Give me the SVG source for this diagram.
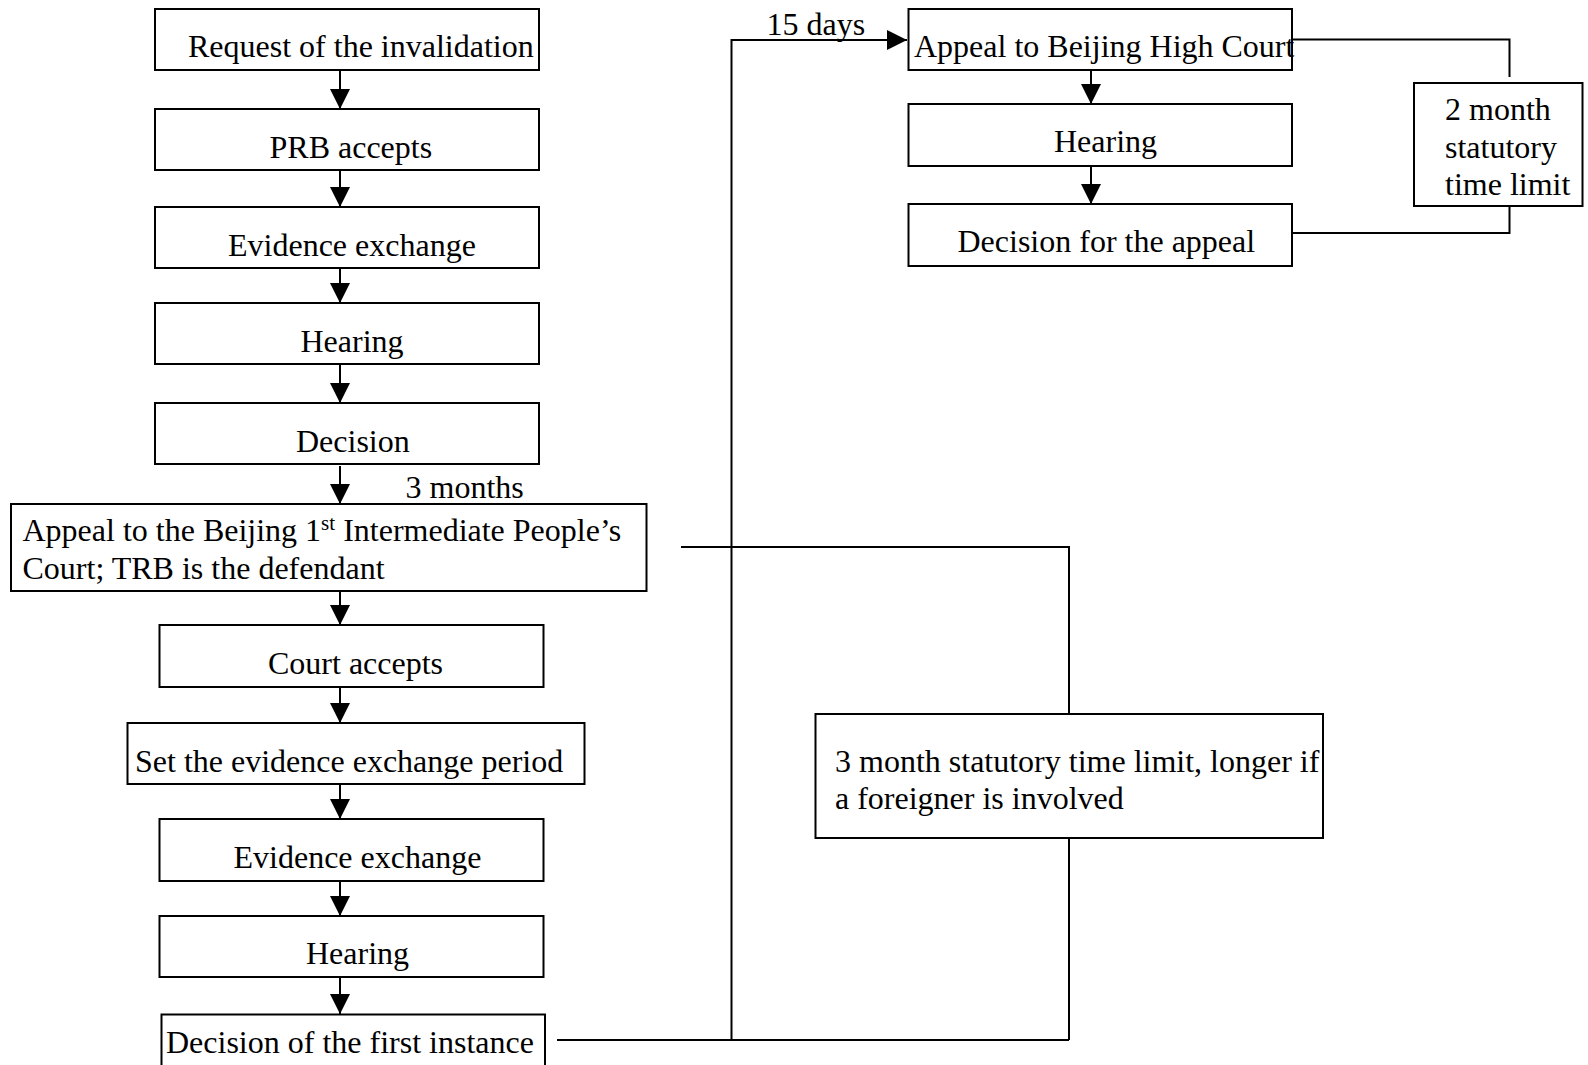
<svg xmlns="http://www.w3.org/2000/svg" width="1588" height="1065" viewBox="0 0 1588 1065">
  <style>
    .box { fill: #ffffff; stroke: #000000; stroke-width: 2; }
    .lbl { font-family: "Liberation Serif", "Times New Roman", serif; font-size: 32px; fill: #000000; }
    .sup { font-size: 21px; }
    .wire { fill: none; stroke: #000000; stroke-width: 2; }
  </style>
  <defs>
    <marker id="head" markerUnits="userSpaceOnUse" markerWidth="20" markerHeight="20" refX="20" refY="10" orient="auto">
      <path d="M0,0 L20,10 L0,20 Z" fill="#000000"/>
    </marker>
  </defs>
  <rect width="1588" height="1065" fill="#ffffff"/>

  <!-- connectors -->
  <g id="connectors">
    <line class="wire" x1="340" y1="70" x2="340" y2="109" marker-end="url(#head)"/>
    <line class="wire" x1="340" y1="170" x2="340" y2="207" marker-end="url(#head)"/>
    <line class="wire" x1="340" y1="268" x2="340" y2="303" marker-end="url(#head)"/>
    <line class="wire" x1="340" y1="364" x2="340" y2="403" marker-end="url(#head)"/>
    <line class="wire" x1="340" y1="466" x2="340" y2="504" marker-end="url(#head)"/>
    <line class="wire" x1="340" y1="591" x2="340" y2="625" marker-end="url(#head)"/>
    <line class="wire" x1="340" y1="687" x2="340" y2="723" marker-end="url(#head)"/>
    <line class="wire" x1="340" y1="784" x2="340" y2="819" marker-end="url(#head)"/>
    <line class="wire" x1="340" y1="881" x2="340" y2="916" marker-end="url(#head)"/>
    <line class="wire" x1="340" y1="977" x2="340" y2="1014" marker-end="url(#head)"/>

    <line class="wire" x1="1091" y1="70" x2="1091" y2="104" marker-end="url(#head)"/>
    <line class="wire" x1="1091" y1="162" x2="1091" y2="204" marker-end="url(#head)"/>

    <!-- first-instance decision to High Court appeal -->
    <polyline class="wire" points="557,1040 731.5,1040 731.5,40 907,40" marker-end="url(#head)"/>
    <line class="wire" x1="731.5" y1="1040" x2="1069" y2="1040"/>

    <!-- 3 month bracket -->
    <polyline class="wire" points="681,547 1069,547 1069,714"/>
    <line class="wire" x1="1069" y1="838" x2="1069" y2="1040"/>

    <!-- 2 month bracket -->
    <polyline class="wire" points="1292,39.5 1509.5,39.5 1509.5,77"/>
    <polyline class="wire" points="1292,233 1509.5,233 1509.5,206"/>
  </g>

  <!-- left column -->
  <g id="request">
    <rect class="box" x="155" y="9" width="384" height="61"/>
    <text class="lbl" x="188" y="56.5">Request of the invalidation</text>
  </g>
  <g id="prb-accepts">
    <rect class="box" x="155" y="109" width="384" height="61"/>
    <text class="lbl" x="269.5" y="157.5">PRB accepts</text>
  </g>
  <g id="evidence-exchange-1">
    <rect class="box" x="155" y="207" width="384" height="61"/>
    <text class="lbl" x="228" y="256">Evidence exchange</text>
  </g>
  <g id="hearing-1">
    <rect class="box" x="155" y="303" width="384" height="61"/>
    <text class="lbl" x="300.5" y="352">Hearing</text>
  </g>
  <g id="decision">
    <rect class="box" x="155" y="403" width="384" height="61"/>
    <text class="lbl" x="296" y="451.5">Decision</text>
  </g>
  <g id="months-label">
    <text class="lbl" x="405.5" y="498">3 months</text>
  </g>
  <g id="appeal-intermediate">
    <rect class="box" x="11" y="504" width="635.5" height="87"/>
    <text class="lbl" x="22.5" y="540.5">Appeal to the Beijing 1<tspan class="sup" dy="-11">st</tspan><tspan dy="11"> Intermediate People’s</tspan></text>
    <text class="lbl" x="22.5" y="579">Court; TRB is the defendant</text>
  </g>
  <g id="court-accepts">
    <rect class="box" x="159.5" y="625" width="384" height="62"/>
    <text class="lbl" x="268" y="674">Court accepts</text>
  </g>
  <g id="set-period">
    <rect class="box" x="127.5" y="723" width="457" height="61"/>
    <text class="lbl" x="135" y="771.5">Set the evidence exchange period</text>
  </g>
  <g id="evidence-exchange-2">
    <rect class="box" x="159.5" y="819" width="384" height="62"/>
    <text class="lbl" x="233.5" y="867.5">Evidence exchange</text>
  </g>
  <g id="hearing-2">
    <rect class="box" x="159.5" y="916" width="384" height="61"/>
    <text class="lbl" x="306" y="964">Hearing</text>
  </g>
  <g id="first-instance">
    <rect class="box" x="161.5" y="1014.5" width="383.5" height="70"/>
    <text class="lbl" x="166" y="1053">Decision of the first instance</text>
  </g>

  <!-- right column -->
  <g id="days-label">
    <text class="lbl" x="766.5" y="35">15 days</text>
  </g>
  <g id="appeal-high-court">
    <rect class="box" x="908.5" y="9" width="383.5" height="61"/>
    <text class="lbl" x="914" y="56.5">Appeal to Beijing High Court</text>
  </g>
  <g id="hearing-3">
    <rect class="box" x="908.5" y="104" width="383.5" height="62"/>
    <text class="lbl" x="1054" y="152">Hearing</text>
  </g>
  <g id="appeal-decision">
    <rect class="box" x="908.5" y="204" width="383.5" height="62"/>
    <text class="lbl" x="957.5" y="252">Decision for the appeal</text>
  </g>
  <g id="two-month-limit">
    <rect class="box" x="1414" y="83" width="168.5" height="123"/>
    <text class="lbl" x="1445" y="119.5">2 month</text>
    <text class="lbl" x="1445" y="157.5">statutory</text>
    <text class="lbl" x="1445" y="195">time limit</text>
  </g>
  <g id="three-month-limit">
    <rect class="box" x="815.5" y="714" width="507.5" height="124"/>
    <text class="lbl" x="835" y="771.5">3 month statutory time limit, longer if</text>
    <text class="lbl" x="835" y="809">a foreigner is involved</text>
  </g>
</svg>
